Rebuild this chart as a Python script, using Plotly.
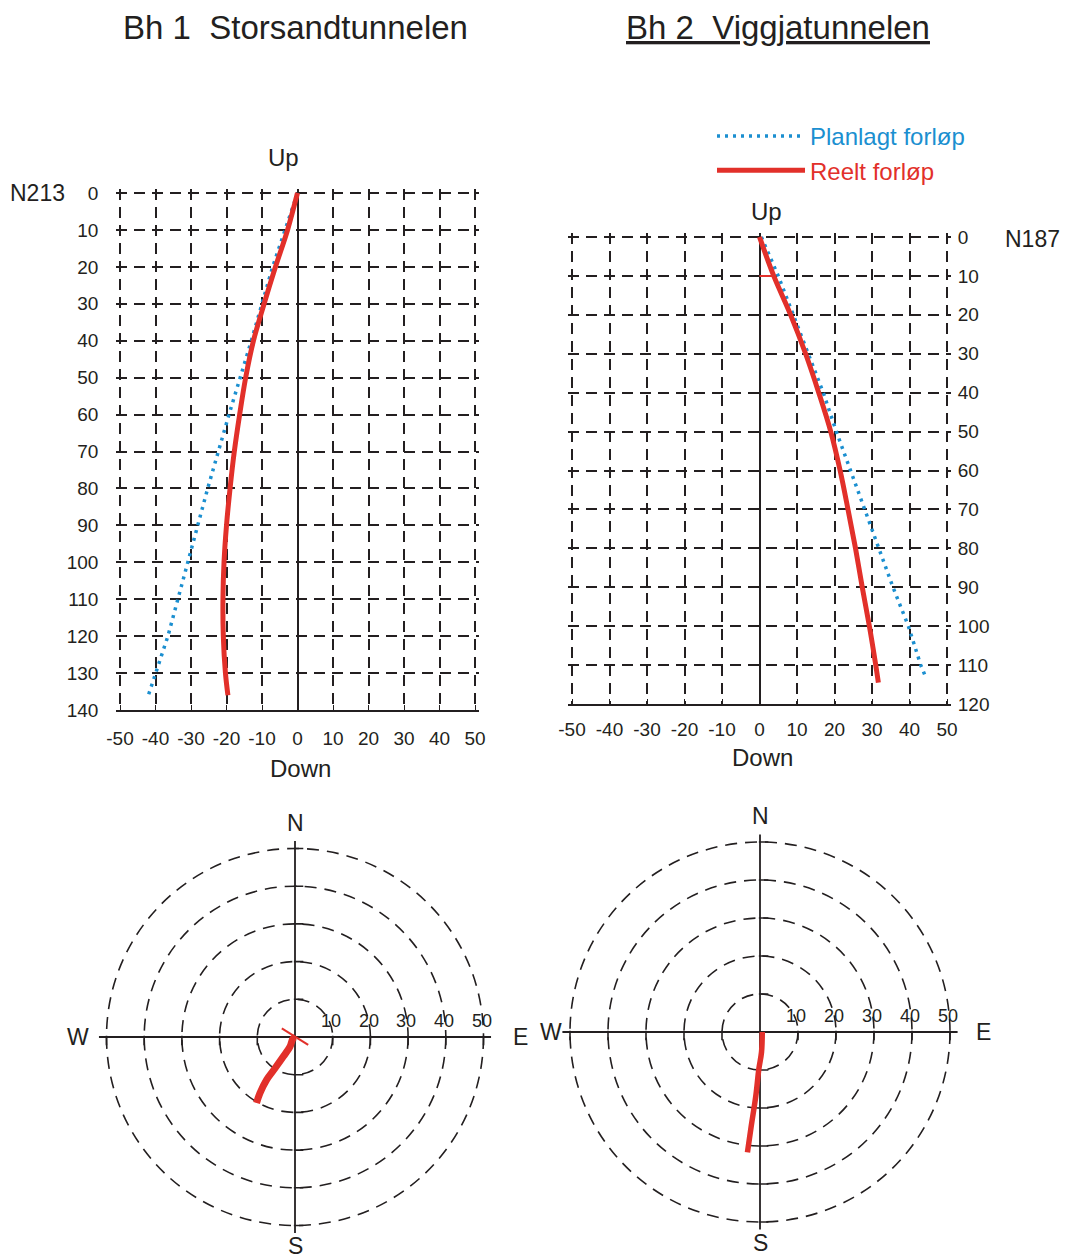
import plotly.graph_objects as go

W, H = 1071, 1259
OFF = 8  # default page margin of the html body

# ---------------- data ----------------
dev_tick_vals = [-50, -40, -30, -20, -10, 0, 10, 20, 30, 40, 50]
dev_tick_text = ["-50", "-40", "-30", "-20", "-10", "0", "10", "20", "30", "40", "50"]
depth_ticks_bh1 = [0, 10, 20, 30, 40, 50, 60, 70, 80, 90, 100, 110, 120, 130, 140]
depth_ticks_bh2 = [0, 10, 20, 30, 40, 50, 60, 70, 80, 90, 100, 110, 120]
ring_radii = [10, 20, 30, 40, 50]
ring_labels = ["10", "20", "30", "40", "50"]

# Bh 1 Storsandtunnelen - vertical section (deviation vs depth)
bh1_plan_depth = [0, 20, 40, 60, 80, 100, 120, 136]
bh1_plan_dev = [0, -7, -13, -19.3, -25.3, -31, -36.5, -42]
bh1_real_depth = [0, 10, 20, 30, 40, 50, 60, 70, 80, 90, 100, 110, 120, 130, 136]
bh1_real_dev = [0, -2.8, -6.2, -9.4, -12.4, -14.6, -16.3, -17.8, -19, -20, -20.7, -21, -20.9, -20.3, -19.6]

# Bh 2 Viggjatunnelen - vertical section
bh2_plan_depth = [0, 10, 20, 30, 40, 50, 60, 70, 80, 90, 100, 110, 113.5]
bh2_plan_dev = [0.5, 5, 9, 13, 17, 20.5, 24.3, 28, 31.8, 35.6, 39.7, 43, 44.5]
bh2_real_depth = [0, 10, 20, 30, 40, 50, 60, 70, 80, 90, 100, 110, 114.5]
bh2_real_dev = [0, 3.8, 8.3, 12.3, 15.8, 19, 21.5, 23.6, 25.6, 27.4, 29.3, 31, 31.7]
bh2_mark_dev = [0, 3.8]
bh2_mark_depth = [10, 10]

# plan views (east, north)
bh1_east = [0, -0.6, -1.3, -3.1, -5.3, -7.5, -9.3, -10.2]
bh1_north = [0, -0.5, -2.5, -5.2, -8.3, -11.3, -14.9, -17.5]
bh1_mark_east = [-3.5, 3.5]
bh1_mark_north = [2.3, -2.1]
bh2_east = [0.6, 0.4, -0.3, -1.1, -2.3, -3.3]
bh2_north = [0, -5.3, -9.7, -16.8, -24.7, -31.7]

# ---------------- styling ----------------
FONT = "Liberation Sans, Arial, Helvetica, sans-serif"
INK = "#231f20"
BLUE = "#1b8fd0"
RED = "#e2302a"


def px(x):
    return (x - OFF) / W


def py(y):
    return 1 - (y - OFF) / H


fig = go.Figure()

# ---- vertical sections ----
fig.add_trace(go.Scatter(
    x=bh1_plan_dev, y=bh1_plan_depth, xaxis="x", yaxis="y", mode="lines",
    line=dict(color=BLUE, width=3.5, dash="3px,5px"),
    name="<span style='color:%s'>Planlagt forløp</span>" % BLUE,
    legendgroup="a", hoverinfo="skip"))
fig.add_trace(go.Scatter(
    x=bh1_real_dev, y=bh1_real_depth, xaxis="x", yaxis="y", mode="lines",
    line=dict(color=RED, width=5, shape="spline"),
    name="<span style='color:%s'>Reelt forløp</span>" % RED,
    legendgroup="b", hoverinfo="skip"))
fig.add_trace(go.Scatter(
    x=bh2_plan_dev, y=bh2_plan_depth, xaxis="x2", yaxis="y2", mode="lines",
    line=dict(color=BLUE, width=3.5, dash="3px,5px"), showlegend=False, hoverinfo="skip"))
fig.add_trace(go.Scatter(
    x=bh2_real_dev, y=bh2_real_depth, xaxis="x2", yaxis="y2", mode="lines",
    line=dict(color=RED, width=5, shape="spline"), showlegend=False, hoverinfo="skip"))
fig.add_trace(go.Scatter(
    x=bh2_mark_dev, y=bh2_mark_depth, xaxis="x2", yaxis="y2", mode="lines",
    line=dict(color=RED, width=2), showlegend=False, hoverinfo="skip"))

# ---- plan views ----
fig.add_trace(go.Scatter(
    x=bh1_east, y=bh1_north, xaxis="x3", yaxis="y3", mode="lines",
    line=dict(color=RED, width=7, shape="spline"), showlegend=False, hoverinfo="skip"))
fig.add_trace(go.Scatter(
    x=bh1_mark_east, y=bh1_mark_north, xaxis="x3", yaxis="y3", mode="lines",
    line=dict(color=RED, width=2), showlegend=False, hoverinfo="skip"))
fig.add_trace(go.Scatter(
    x=bh2_east, y=bh2_north, xaxis="x4", yaxis="y4", mode="lines",
    line=dict(color=RED, width=5.5, shape="spline"), showlegend=False, hoverinfo="skip"))

tickfont = dict(family=FONT, size=19, color=INK)
grid = dict(showgrid=True, gridcolor=INK, gridwidth=1.6, griddash="11px,7px", automargin=False)

layout = dict(
    width=W, height=H, autosize=False, margin=dict(l=0, r=0, t=0, b=0, pad=0),
    paper_bgcolor="white", plot_bgcolor="rgba(0,0,0,0)",
    font=dict(family=FONT, color=INK),
    showlegend=True,
    legend=dict(x=px(712), y=py(114), xanchor="left", yanchor="top",
                font=dict(family=FONT, size=24), itemwidth=88,
                bgcolor="rgba(0,0,0,0)", tracegroupgap=0),
    # left vertical section
    xaxis=dict(domain=[px(116.45), px(478.55)], range=[-51, 51], anchor="y",
               tickvals=dev_tick_vals, ticktext=dev_tick_text, tickfont=tickfont,
               zeroline=True, zerolinecolor=INK, zerolinewidth=1.8,
               showline=True, linecolor=INK, linewidth=2,
               ticks="inside", ticklen=5, tickcolor=INK, ticklabelstandoff=10,
               fixedrange=True, **grid),
    yaxis=dict(domain=[py(710), py(189.3)], range=[140, -1], anchor="x",
               tickvals=depth_ticks_bh1, tickfont=tickfont, zeroline=False,
               showline=False, ticklabelstandoff=17, fixedrange=True, **grid),
    # right vertical section
    xaxis2=dict(domain=[px(568.25), px(950.75)], range=[-51, 51], anchor="y2",
                tickvals=dev_tick_vals, ticktext=dev_tick_text, tickfont=tickfont,
                zeroline=True, zerolinecolor=INK, zerolinewidth=1.8,
                showline=True, linecolor=INK, linewidth=2,
                ticks="inside", ticklen=5, tickcolor=INK, ticklabelstandoff=7,
                fixedrange=True, **grid),
    yaxis2=dict(domain=[py(704), py(233.1)], range=[120, -1], anchor="x2", side="right",
                tickvals=depth_ticks_bh2, tickfont=tickfont, zeroline=False,
                showline=False, ticklabelstandoff=6, fixedrange=True, **grid),
    # plan views
    xaxis3=dict(domain=[px(295 - 58 * 3.77), px(295 + 58 * 3.77)], range=[-58, 58],
                anchor="y3", visible=False, fixedrange=True, automargin=False),
    yaxis3=dict(domain=[py(1037 + 58 * 3.77), py(1037 - 58 * 3.77)], range=[-58, 58],
                anchor="x3", visible=False, fixedrange=True, automargin=False),
    xaxis4=dict(domain=[px(760 - 58 * 3.8), px(760 + 58 * 3.8)], range=[-58, 58],
                anchor="y4", visible=False, fixedrange=True, automargin=False),
    yaxis4=dict(domain=[py(1032 + 58 * 3.8), py(1032 - 58 * 3.8)], range=[-58, 58],
                anchor="x4", visible=False, fixedrange=True, automargin=False),
)

shapes = []
annotations = []
for xr, yr in (("x3", "y3"), ("x4", "y4")):
    for r in ring_radii:
        shapes.append(dict(type="circle", xref=xr, yref=yr, x0=-r, x1=r, y0=-r, y1=r,
                           line=dict(color=INK, width=1.6, dash="12px,8px"), layer="below"))
    outer = ring_radii[-1] + 2
    shapes.append(dict(type="line", xref=xr, yref=yr, x0=-outer, x1=outer, y0=0, y1=0,
                       line=dict(color=INK, width=1.8), layer="below"))
    shapes.append(dict(type="line", xref=xr, yref=yr, x0=0, x1=0, y0=-outer, y1=outer,
                       line=dict(color=INK, width=1.8), layer="below"))
    for r in ring_radii:
        for s in (-1, 1):
            # ticks on the W-E axis hang below it, ticks on the N-S axis point east
            shapes.append(dict(type="line", xref=xr, yref=yr, x0=s * r, x1=s * r, y0=-2.2, y1=0.3,
                               line=dict(color=INK, width=1.6), layer="below"))
            shapes.append(dict(type="line", xref=xr, yref=yr, x0=-0.3, x1=2.2, y0=s * r, y1=s * r,
                               line=dict(color=INK, width=1.6), layer="below"))
    for r, lab in zip(ring_radii, ring_labels):
        annotations.append(dict(xref=xr, yref=yr, x=r - 0.5, y=0, text=lab, showarrow=False,
                                yanchor="bottom", yshift=4,
                                font=dict(family=FONT, size=18, color=INK)))
    cfont = dict(family=FONT, size=23, color=INK)
    annotations.append(dict(xref=xr, yref=yr, x=0, y=outer, text="N", showarrow=False,
                            yanchor="bottom", yshift=3, font=cfont))
    annotations.append(dict(xref=xr, yref=yr, x=0, y=-outer, text="S", showarrow=False,
                            yanchor="top", yshift=2, font=cfont))
    annotations.append(dict(xref=xr, yref=yr, x=-outer, y=0, text="W", showarrow=False,
                            xanchor="right", xshift=(-8 if xr == "x3" else 2), font=cfont))
    annotations.append(dict(xref=xr, yref=yr, x=outer, y=0, text="E", showarrow=False,
                            xanchor="left", xshift=(20 if xr == "x3" else 16), font=cfont))

lab_font = dict(family=FONT, size=24, color=INK)
title_font = dict(family=FONT, size=33, color=INK)


def label(x, y, text, font, xanchor="center"):
    return dict(xref="paper", yref="paper", x=px(x), y=py(y), text=text, showarrow=False,
                xanchor=xanchor, yanchor="middle", font=font)


annotations += [
    label(295, 28, "Bh 1\u00a0\u00a0Storsandtunnelen", title_font),
    label(778, 28, "<u>Bh 2\u00a0\u00a0Viggjatunnelen</u>", title_font),
    label(283, 157, "Up", lab_font),
    label(300, 768, "Down", lab_font),
    label(766, 212, "Up", lab_font),
    label(762, 757, "Down", lab_font),
    label(8, 193, "N213", dict(family=FONT, size=23, color=INK), xanchor="left"),
    label(1003, 239, "N187", dict(family=FONT, size=23, color=INK), xanchor="left"),
]

layout["shapes"] = shapes
layout["annotations"] = annotations
fig.update_layout(**layout)

fig.write_html("out.html")
